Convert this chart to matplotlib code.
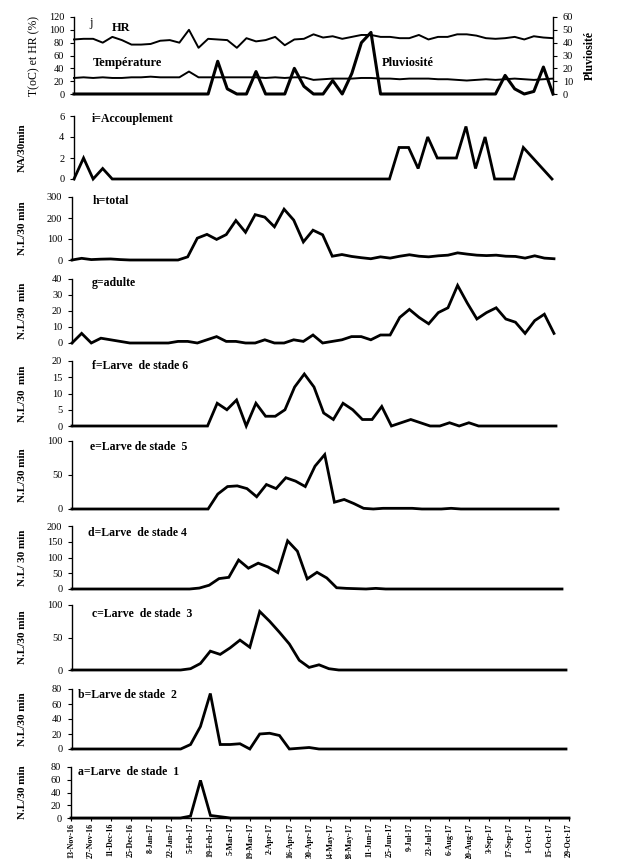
"""Weekly trap catches (larval stages, adults, mating) and climate, Nov-16 to Oct-17."""
import matplotlib
matplotlib.use("Agg")
import matplotlib.pyplot as plt
import numpy as np
import pandas as pd

plt.rcParams["font.family"] = ["Liberation Serif", "DejaVu Serif"]

W, H = 628, 859

dates = pd.date_range("2016-11-13", periods=51, freq="7D")
tick_labels = ["13-Nov-16", "27-Nov-16", "11-Dec-16", "25-Dec-16", "8-Jan-17",
               "22-Jan-17", "5-Feb-17", "19-Feb-17", "5-Mar-17", "19-Mar-17",
               "2-Apr-17", "16-Apr-17", "30-Apr-17", "14-May-17", "28-May-17",
               "11-Jun-17", "25-Jun-17", "9-Jul-17", "23-Jul-17", "6-Aug-17",
               "20-Aug-17", "3-Sep-17", "17-Sep-17", "1-Oct-17", "15-Oct-17",
               "29-Oct-17"]

# j: climate
hr = [85, 86, 86, 80, 89, 84, 77, 77, 78, 83, 84, 80, 100, 72, 86, 85, 84, 72,
      87, 82, 84, 89, 76, 85, 86, 93, 88, 90, 86, 89, 92, 92, 89, 89, 87, 87,
      92, 85, 89, 89, 93, 93, 91, 87, 86, 87, 89, 85, 90, 88, 87]
temp = [25, 26, 25, 26, 25, 25, 26, 26, 27, 26, 26, 26, 35, 26, 26, 26, 26, 26,
        26, 26, 25, 26, 25, 26, 26, 22, 23, 24, 24, 24, 25, 25, 24, 24, 23, 24,
        24, 24, 23, 23, 22, 21, 22, 23, 22, 23, 24, 23, 22, 23, 24]
rain = [0, 0, 0, 0, 0, 0, 0, 0, 0, 0, 0, 0, 0, 0, 0, 25.5, 4, 0, 0, 17.5, 0, 0,
        0, 20, 6, 0, 0, 10.5, 0, 16, 40, 48, 0, 0, 0, 0, 0, 0, 0, 0, 0, 0, 0, 0,
        0, 14.5, 4, 0, 2, 21, 0]

# i..a: counts
accoup = [0, 2, 0, 1, 0, 0, 0, 0, 0, 0, 0, 0, 0, 0, 0, 0, 0, 0, 0, 0, 0, 0, 0,
          0, 0, 0, 0, 0, 0, 0, 0, 0, 0, 0, 3, 3, 1, 4, 2, 2, 2, 5, 1, 4, 0, 0,
          0, 3, 2, 1, 0]
total = [0, 8, 2, 4, 5, 2, 0, 0, 0, 0, 0, 0, 15, 104, 122, 98, 121, 188, 132,
         216, 204, 158, 242, 190, 86, 142, 120, 18, 26, 17, 11, 6, 15, 9, 18,
         25, 18, 15, 20, 23, 34, 28, 23, 21, 23, 18, 17, 9, 20, 9, 6]
adulte = [0, 6, 0, 3, 2, 1, 0, 0, 0, 0, 0, 1, 1, 0, 2, 4, 1, 1, 0, 0, 2, 0, 0,
          2, 1, 5, 0, 1, 2, 4, 4, 2, 5, 5, 16, 21, 16, 12, 19, 22, 36, 25, 15,
          19, 22, 15, 13, 6, 14, 18, 6]
stade6 = [0, 0, 0, 0, 0, 0, 0, 0, 0, 0, 0, 0, 0, 0, 0, 7, 5, 8, 0, 7, 3, 3, 5,
          12, 16, 12, 4, 2, 7, 5, 2, 2, 6, 0, 1, 2, 1, 0, 0, 1, 0, 1, 0, 0, 0,
          0, 0, 0, 0, 0, 0]
stade5 = [0, 0, 0, 0, 0, 0, 0, 0, 0, 0, 0, 0, 0, 0, 0, 22, 33, 34, 30, 18, 36,
          30, 46, 41, 33, 63, 80, 10, 14, 8, 1, 0, 1, 1, 1, 1, 0, 0, 0, 1, 0, 0,
          0, 0, 0, 0, 0, 0, 0, 0, 0]
stade4 = [0, 0, 0, 0, 0, 0, 0, 0, 0, 0, 0, 0, 0, 3, 12, 33, 37, 92, 66, 82, 70,
          52, 153, 120, 32, 53, 35, 4, 2, 1, 0, 2, 0, 0, 0, 0, 0, 0, 0, 0, 0, 0,
          0, 0, 0, 0, 0, 0, 0, 0, 0]
stade3 = [0, 0, 0, 0, 0, 0, 0, 0, 0, 0, 0, 0, 2, 10, 29, 24, 34, 46, 35, 90, 75,
          58, 40, 15, 4, 8, 2, 0, 0, 0, 0, 0, 0, 0, 0, 0, 0, 0, 0, 0, 0, 0, 0,
          0, 0, 0, 0, 0, 0, 0, 0]
stade2 = [0, 0, 0, 0, 0, 0, 0, 0, 0, 0, 0, 0, 6, 30, 74, 6, 6, 7, 0, 20, 21, 18,
          0, 1, 2, 0, 0, 0, 0, 0, 0, 0, 0, 0, 0, 0, 0, 0, 0, 0, 0, 0, 0, 0, 0,
          0, 0, 0, 0, 0, 0]
stade1 = [0, 0, 0, 0, 0, 0, 0, 0, 0, 0, 0, 0, 3, 59, 4, 2, 0, 0, 0, 0, 0, 0, 0,
          0, 0, 0, 0, 0, 0, 0, 0, 0, 0, 0, 0, 0, 0, 0, 0, 0, 0, 0, 0, 0, 0, 0,
          0, 0, 0, 0, 0]

# (series, title, ylabel, ymax, ystep, axes box px: left, right, top, bottom,
#  title pos px: x, y)
panels = [
    (accoup, "i=Accouplement", "NA/30min", 6, 2, 74, 552, 116, 179, 92, 119),
    (total, "h=total", "N.L/30 min", 300, 100, 72, 554, 197, 260, 93, 201),
    (adulte, "g=adulte", "N.L/30  min", 40, 10, 72, 554, 279, 343, 92, 283),
    (stade6, "f=Larve  de stade 6", "N.L/30  min", 20, 5, 72, 556, 361, 426,
     92, 366),
    (stade5, "e=Larve de stade  5", "N.L/30 min", 100, 50, 72, 558, 441, 509,
     90, 447),
    (stade4, "d=Larve  de stade 4", "N.L/ 30 min", 200, 50, 72, 562, 526, 589,
     88, 533),
    (stade3, "c=Larve  de stade  3", "N.L/30 min", 100, 50, 72, 566, 605, 670,
     92, 614),
    (stade2, "b=Larve de stade  2", "N.L/30 min", 80, 20, 72, 566, 689, 749,
     78, 695),
    (stade1, "a=Larve  de stade  1", "N.L/30 min", 80, 20, 71, 569, 767, 818,
     78, 772),
]


def make_ax(fig, x0, x1, y0, y1):
    return fig.add_axes([x0 / W, 1 - y1 / H, (x1 - x0) / W, (y1 - y0) / H])


def style(ax, ymax, ystep):
    ax.set_xlim(dates[0], dates[-1])
    ax.set_ylim(0, ymax)
    ax.set_yticks(np.arange(0, ymax + ystep / 2, ystep))
    for s in ("top", "right", "bottom"):
        ax.spines[s].set_visible(False)
    ax.spines["left"].set_linewidth(1.0)
    ax.tick_params(axis="y", direction="out", length=3, width=0.8,
                   labelsize=7.5, pad=4)
    ax.set_xticks([])


fig = plt.figure(figsize=(W / 100, H / 100), dpi=100)

# j: climate panel
ax = make_ax(fig, 74, 553, 17, 94)
style(ax, 120, 20)
ax.plot(dates, hr, color="black", lw=1.4, clip_on=False)
ax.plot(dates, temp, color="black", lw=1.4, clip_on=False)
ax.set_ylabel("T(oC) et HR (%)", fontsize=8.5, labelpad=6)
ax.text(0.031, 0.926, "j", transform=ax.transAxes, fontsize=9, va="center")
ax.text(0.079, 0.857, "HR", transform=ax.transAxes, fontsize=9,
        fontweight="bold", va="center")
ax.text(0.04, 0.40, "Température", transform=ax.transAxes, fontsize=9,
        fontweight="bold", va="center")
ax.text(0.643, 0.40, "Pluviosité", transform=ax.transAxes, fontsize=9,
        fontweight="bold", va="center")
ax2 = ax.twinx()
ax2.set_xlim(dates[0], dates[-1])
ax2.set_ylim(0, 60)
ax2.set_yticks(np.arange(0, 61, 10))
for s in ("top", "left", "bottom"):
    ax2.spines[s].set_visible(False)
ax2.spines["right"].set_linewidth(1.0)
ax2.tick_params(axis="y", direction="out", length=3, width=0.8,
                labelsize=7.5, pad=4)
ax2.plot(dates, rain, color="black", lw=2.2, clip_on=False)
ax2.set_ylabel("Pluviosité", fontsize=8.5, fontweight="bold", labelpad=8)

for (series, title, ylabel, ymax, ystep, x0, x1, y0, y1,
     tx, ty) in panels:
    ax = make_ax(fig, x0, x1, y0, y1)
    style(ax, ymax, ystep)
    ax.plot(dates, series, color="black", lw=2.0, clip_on=False,
            solid_joinstyle="miter")
    ax.set_ylabel(ylabel, fontsize=8, fontweight="bold")
    ax.yaxis.set_label_coords((27 - x0) / (x1 - x0), 0.5)
    fig.text(tx / W, 1 - ty / H, title, fontsize=8.5, fontweight="bold",
             va="center")

# bottom date axis on panel a
ax.spines["bottom"].set_visible(True)
ax.spines["bottom"].set_linewidth(1.0)
ticks = pd.date_range(dates[0], dates[-1], freq="14D")
ax.set_xticks(ticks)
ax.set_xticklabels(tick_labels, rotation=90, fontsize=5.8, fontweight="bold")
ax.tick_params(axis="x", direction="out", length=2.5, width=0.8, pad=1)

fig.savefig("out.png", dpi=100)
